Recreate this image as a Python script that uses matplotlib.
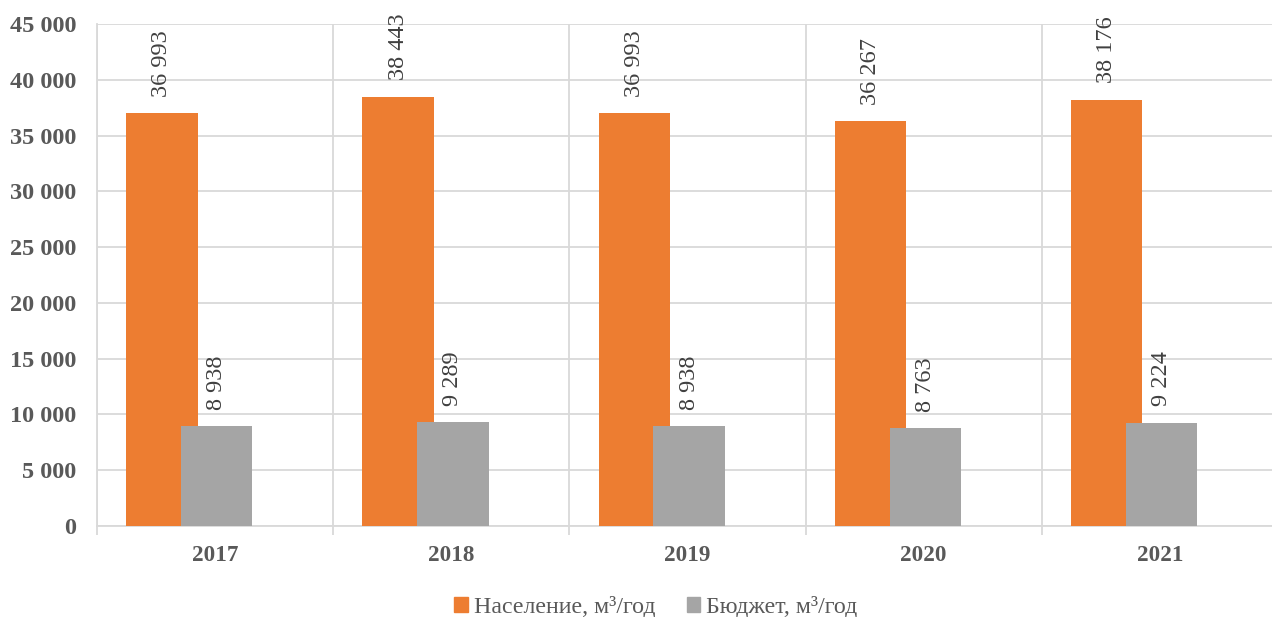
import matplotlib
matplotlib.use("Agg")
import matplotlib.pyplot as plt
from matplotlib.patches import Patch
import numpy as np

years = ["2017", "2018", "2019", "2020", "2021"]
naselenie = [36993, 38443, 36993, 36267, 38176]
budget = [8938, 9289, 8938, 8763, 9224]
series_names = ["Население, м³/год", "Бюджет, м³/год"]
yticks = [0, 5000, 10000, 15000, 20000, 25000, 30000, 35000, 40000, 45000]

def fmt(v):
    return f"{v:,}".replace(",", " ")

plt.rcParams['font.family'] = ['Liberation Serif', 'DejaVu Serif']

fig = plt.figure(figsize=(12.72, 6.17), dpi=100)
ax = fig.add_axes([97/1272, 1-526/617, 1181/1272, (526-24)/617])

x = np.arange(len(years))
w = 0.302
orange = "#ED7D31"
grey = "#A5A5A5"
b1 = ax.bar(x - 0.225, naselenie, width=w, color=orange, zorder=3)
b2 = ax.bar(x + 0.007, budget, width=w, color=grey, zorder=4)

for bars, vals in ((b1, naselenie), (b2, budget)):
    for r, v in zip(bars, vals):
        ax.annotate(fmt(v), (r.get_x() + r.get_width()/2, v),
                    xytext=(0, 12), textcoords="offset points",
                    rotation=90, ha="center", va="bottom",
                    fontsize=17.5, color="#404040")

ax.set_xlim(-0.5, len(years) - 0.5)
ax.set_ylim(0, 45000)
ax.set_yticks(yticks)
ax.set_yticklabels([fmt(t) for t in yticks], fontsize=17.5, fontweight="bold", color="#595959")
ax.set_xticks(x)
ax.set_xticklabels(years, fontsize=16.7, fontweight="bold", color="#595959")
ax.set_xticks(np.arange(-0.5, len(years)), minor=True)
ax.tick_params(axis="y", length=0, pad=15)
ax.tick_params(axis="x", which="major", length=0, pad=14)
ax.tick_params(axis="x", which="minor", length=6.5, color="#D9D9D9", width=1.3)
ax.grid(axis="y", color="#D9D9D9", linewidth=1.3, zorder=0)
ax.grid(axis="x", which="minor", color="#D9D9D9", linewidth=1.3, zorder=0)
for s in ["top", "right"]:
    ax.spines[s].set_visible(False)
for s in ["left", "bottom"]:
    ax.spines[s].set_color("#D9D9D9")
    ax.spines[s].set_linewidth(1.3)

handles = [Patch(color=orange), Patch(color=grey)]
fig.legend(handles, series_names, loc="center", bbox_to_anchor=(656/1272, 1-607/617),
           ncol=2, frameon=False, fontsize=17.2, handlelength=0.55, handleheight=0.55,
           handletextpad=0.25, columnspacing=1.35, labelcolor="#595959")

fig.savefig("out.png", dpi=100)
